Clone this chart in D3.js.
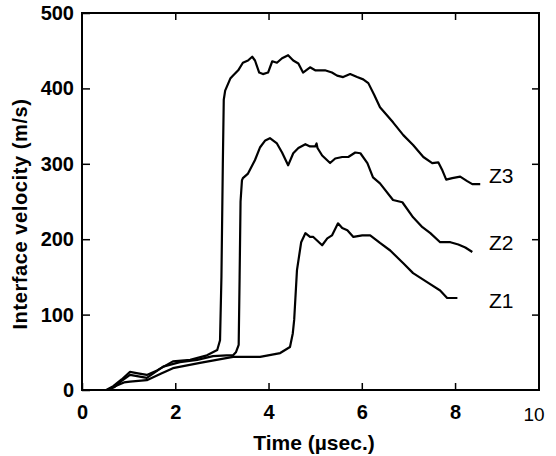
<!DOCTYPE html>
<html>
<head>
<meta charset="utf-8">
<script src="https://cdn.jsdelivr.net/npm/d3@7"></script>
<style>
  body { margin: 0; background: #fff; }
  svg { display: block; }
  .tick text { font-family: "Liberation Sans", Arial, sans-serif; font-weight: bold; font-size: 20px; fill: #000; }
  .tick line { stroke: #000; stroke-width: 1.5; }
  .domain { display: none; }
</style>
</head>
<body>
<svg id="chart" width="556" height="456"></svg>
<script>
// time in microseconds, interface velocity in m/s
const z1 = [[0.55,0],[0.67,4],[0.9,10],[1.03,11],[1.39,13],[1.7,22],[1.95,29],[2.53,36],[3.24,44],[3.82,44],[4.25,49],[4.46,57],[4.52,75],[4.55,93],[4.61,159],[4.7,196],[4.79,208],[4.89,203],[4.96,203],[5.15,192],[5.26,201],[5.36,205],[5.49,221],[5.58,215],[5.69,212],[5.82,203],[6.01,205],[6.18,205],[6.39,195],[6.61,185],[6.89,168],[7.10,155],[7.40,143],[7.68,132],[7.83,122],[8.05,122]]
const z2 = [[0.55,0],[0.7,4],[0.85,12],[1.03,20],[1.39,16],[1.74,31],[2.1,37],[2.47,40],[2.81,45],[3.1,46],[3.24,46],[3.3,50],[3.36,60],[3.38,150],[3.40,250],[3.43,278],[3.45,281],[3.56,287],[3.71,305],[3.82,322],[3.93,331],[4.03,334],[4.18,327],[4.29,315],[4.42,298],[4.53,314],[4.64,321],[4.79,326],[4.89,323],[5.0,323],[5.03,327],[5.05,321],[5.15,311],[5.32,301],[5.43,307],[5.58,309],[5.71,309],[5.86,315],[5.97,314],[6.12,301],[6.24,282],[6.39,274],[6.67,252],[6.87,249],[7.10,229],[7.30,216],[7.47,208],[7.68,196],[7.90,196],[8.07,193],[8.22,189],[8.37,183]]
const z3 = [[0.52,0],[0.67,5],[0.85,14],[1.03,24],[1.2,22],[1.39,20],[1.61,26],[1.95,38],[2.32,40],[2.68,46],[2.9,53],[2.96,66],[2.99,150],[3.02,300],[3.04,385],[3.07,397],[3.18,413],[3.24,417],[3.35,424],[3.45,434],[3.56,437],[3.65,442],[3.71,437],[3.80,421],[3.88,419],[3.99,421],[4.08,436],[4.18,434],[4.29,440],[4.42,444],[4.53,437],[4.64,433],[4.74,421],[4.89,428],[5.0,424],[5.21,424],[5.36,421],[5.47,417],[5.60,415],[5.75,419],[5.90,415],[6.03,412],[6.14,407],[6.27,391],[6.39,375],[6.67,355],[6.89,338],[7.10,325],[7.32,309],[7.51,301],[7.64,302],[7.73,291],[7.81,279],[7.94,281],[8.11,283],[8.26,277],[8.37,273],[8.54,273]]

const seriesNames = ["Z1", "Z2", "Z3"]
const labelVelocity = [109, 186, 275]
const xTicks = [0, 2, 4, 6, 8]
const yTicks = [0, 100, 200, 300, 400, 500]
const xEndLabel = "10"

const svg = d3.select("#chart")
const mLeft = 82, mRight = 539, mTop = 13, mBottom = 390

const x = d3.scaleLinear().domain([0, 9.8]).range([mLeft, mRight])
const y = d3.scaleLinear().domain([0, 500]).range([mBottom, mTop])

// frame
svg.append("rect")
    .attr("x", mLeft).attr("y", mTop)
    .attr("width", mRight - mLeft).attr("height", mBottom - mTop)
    .attr("fill", "none").attr("stroke", "#000").attr("stroke-width", 2)

// axes with inward ticks
svg.append("g")
    .attr("transform", `translate(0,${mBottom})`)
    .call(d3.axisBottom(x).tickValues(xTicks).tickSize(-7).tickPadding(15).tickFormat(d3.format("d")))
svg.append("g")
    .attr("transform", `translate(${mLeft},0)`)
    .call(d3.axisLeft(y).tickValues(yTicks).tickSize(-8).tickPadding(8).tickFormat(d3.format("d")))
svg.append("g")
    .attr("transform", `translate(0,${mTop})`)
    .call(d3.axisTop(x).tickValues(xTicks.slice(1)).tickSize(-7).tickFormat(""))
svg.append("g")
    .attr("transform", `translate(${mRight},0)`)
    .call(d3.axisRight(y).tickValues(yTicks.slice(1, -1)).tickSize(-7).tickFormat(""))

// the scan puts "10" at the frame corner, in a lighter face
svg.append("text")
    .attr("x", mRight - 5).attr("y", 421)
    .attr("text-anchor", "middle")
    .style("font-family", "'Liberation Sans Narrow', 'Liberation Sans', Arial, sans-serif")
    .style("font-size", "19px")
    .text(xEndLabel)

const line = d3.line().x(d => x(d[0])).y(d => y(d[1]))

const series = [z1, z2, z3]
svg.selectAll(".curve")
    .data(series)
    .join("path")
    .attr("class", "curve")
    .attr("d", line)
    .attr("fill", "none")
    .attr("stroke", "#000")
    .attr("stroke-width", 2.2)
    .attr("stroke-linejoin", "round")

// curve names, right of each tail
svg.selectAll(".endlabel")
    .data(seriesNames)
    .join("text")
    .attr("class", "endlabel")
    .attr("x", 489)
    .attr("y", (d, i) => y(labelVelocity[i]))
    .style("font-family", "'Liberation Sans', Arial, sans-serif")
    .style("font-size", "21px")
    .text(d => d)

svg.append("text")
    .attr("x", 314).attr("y", 450)
    .attr("text-anchor", "middle")
    .style("font-family", "'Liberation Sans', Arial, sans-serif")
    .style("font-weight", "bold").style("font-size", "21px")
    .text("Time (µsec.)")

svg.append("text")
    .attr("transform", "translate(27,214) rotate(-90)")
    .attr("text-anchor", "middle")
    .style("font-family", "'Liberation Sans', Arial, sans-serif")
    .style("font-weight", "bold").style("font-size", "20px")
    .style("letter-spacing", "0.6px")
    .text("Interface velocity (m/s)")
</script>
</body>
</html>
